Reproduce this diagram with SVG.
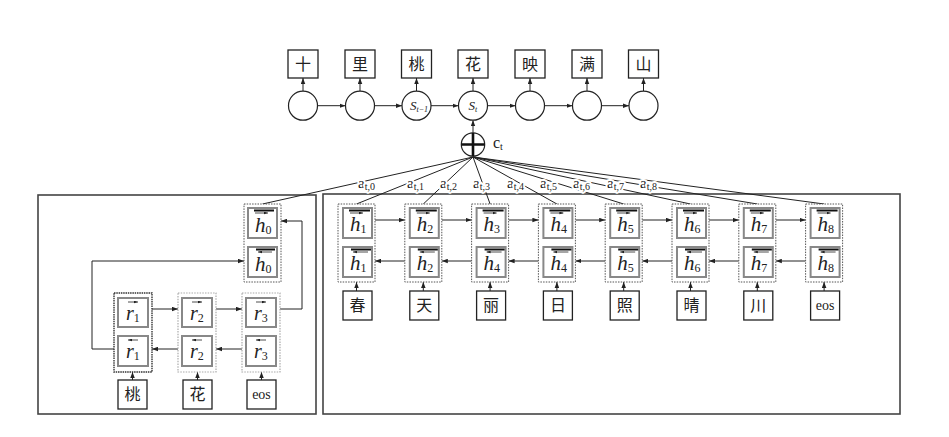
<svg xmlns="http://www.w3.org/2000/svg" width="949" height="437" viewBox="0 0 949 437">
<style>
.ln{fill:none;stroke:#222;stroke-width:1}
.ar{fill:none;stroke:#222;stroke-width:1;marker-end:url(#ah)}
.bx{fill:#fff;stroke:#222;stroke-width:1.3}
.cir{fill:#fff;stroke:#222;stroke-width:1.2}
.outer{fill:#fff;stroke:#555;stroke-width:1;stroke-dasharray:1.5 1.2}
.outerL{fill:#fff;stroke:#aaa;stroke-width:1.2;stroke-dasharray:1.5 1.2}
.inner{fill:#fff;stroke:#888;stroke-width:2}
.frame{fill:none;stroke:#444;stroke-width:1.6}
.cjk{font-family:"Noto Sans CJK SC","Noto Sans CJK JP",sans-serif;font-size:16px;fill:#222;text-anchor:middle}
.ser{font-family:"Liberation Serif","DejaVu Serif",serif;fill:#222}
.it{font-family:"Liberation Serif","DejaVu Serif",serif;font-style:italic;fill:#222}
.sub{font-family:"Liberation Serif","DejaVu Serif",serif;font-style:normal;font-size:12px}
.lab{font-family:"Liberation Serif","DejaVu Serif",serif;fill:#222;font-size:15px;stroke:#fff;stroke-width:4;paint-order:stroke;stroke-linejoin:round}
.bar{fill:#111}
.sm{stroke:#222;stroke-width:0.8;fill:none;marker-end:url(#sa)}
</style>
<defs>
<marker id="ah" viewBox="0 0 8 6" refX="8" refY="3" markerWidth="6" markerHeight="5" orient="auto" markerUnits="userSpaceOnUse">
<path d="M0,0 L8,3 L0,6 z" fill="#222"/>
</marker>
<marker id="sa" viewBox="0 0 6 4" refX="6" refY="2" markerWidth="4" markerHeight="3" orient="auto" markerUnits="userSpaceOnUse">
<path d="M0,0 L6,2 L0,4 z" fill="#222"/>
</marker>
</defs>

<!-- frames -->
<rect class="frame" x="38" y="195" width="278" height="219"/>
<rect class="frame" x="323" y="194" width="577" height="220"/>

<!-- connectors -->
<g id="connectors">
  <path class="ar" d="M303,91 V78"/>
  <path class="ar" d="M360,91 V78"/>
  <path class="ar" d="M416.5,91 V78"/>
  <path class="ar" d="M473,91 V78"/>
  <path class="ar" d="M530,91 V78"/>
  <path class="ar" d="M587,91 V78"/>
  <path class="ar" d="M643.5,91 V78"/>
  <path class="ar" d="M317.5,105.7 H345.5"/>
  <path class="ar" d="M374.5,105.7 H402"/>
  <path class="ar" d="M431,105.7 H458.5"/>
  <path class="ar" d="M487.5,105.7 H515.5"/>
  <path class="ar" d="M544.5,105.7 H572.5"/>
  <path class="ar" d="M601.5,105.7 H629"/>
  <path class="ar" d="M473,132.5 V120.2"/>
  <path class="ln" d="M473,157 L262.5,204"/>
  <path class="ln" d="M473,157 L356.5,204"/>
  <path class="ln" d="M473,157 L423.3,204"/>
  <path class="ln" d="M473,157 L490.1,204"/>
  <path class="ln" d="M473,157 L556.9,204"/>
  <path class="ln" d="M473,157 L623.7,204"/>
  <path class="ln" d="M473,157 L690.5,204"/>
  <path class="ln" d="M473,157 L757.3,204"/>
  <path class="ln" d="M473,157 L824.1,204"/>
  <path class="ar" d="M375,220 H404.8"/>
  <path class="ar" d="M441.8,220 H471.6"/>
  <path class="ar" d="M508.6,220 H538.4"/>
  <path class="ar" d="M575.4,220 H605.2"/>
  <path class="ar" d="M642.2,220 H672"/>
  <path class="ar" d="M709,220 H738.8"/>
  <path class="ar" d="M775.8,220 H805.6"/>
  <path class="ar" d="M404.8,261 H375"/>
  <path class="ar" d="M471.6,261 H441.8"/>
  <path class="ar" d="M538.4,261 H508.6"/>
  <path class="ar" d="M605.2,261 H575.4"/>
  <path class="ar" d="M672,261 H642.2"/>
  <path class="ar" d="M738.8,261 H709"/>
  <path class="ar" d="M805.6,261 H775.8"/>
  <path class="ar" d="M356.5,291 V282"/>
  <path class="ar" d="M423.3,291 V282"/>
  <path class="ar" d="M490.1,291 V282"/>
  <path class="ar" d="M556.9,291 V282"/>
  <path class="ar" d="M623.7,291 V282"/>
  <path class="ar" d="M690.5,291 V282"/>
  <path class="ar" d="M757.3,291 V282"/>
  <path class="ar" d="M824.1,291 V282"/>
  <path class="ar" d="M152,309 H178"/>
  <path class="ar" d="M216,309 H242"/>
  <path class="ar" d="M178,349 H152"/>
  <path class="ar" d="M242,349 H216"/>
  <path class="ar" d="M280,309 H302 V221 H281"/>
  <path class="ar" d="M114,349 H92 V261 H244"/>
  <path class="ar" d="M132.5,380 V372"/>
  <path class="ar" d="M197.5,380 V372"/>
  <path class="ar" d="M261.5,380 V372"/>
</g>

<g id="att-labels">
  <text class="lab" x="358" y="188">a<tspan font-size="10" dy="2">t,0</tspan></text>
  <text class="lab" x="407" y="188">a<tspan font-size="10" dy="2">t,1</tspan></text>
  <text class="lab" x="440" y="188">a<tspan font-size="10" dy="2">t,2</tspan></text>
  <text class="lab" x="473" y="188">a<tspan font-size="10" dy="2">t,3</tspan></text>
  <text class="lab" x="507" y="188">a<tspan font-size="10" dy="2">t,4</tspan></text>
  <text class="lab" x="540" y="188">a<tspan font-size="10" dy="2">t,5</tspan></text>
  <text class="lab" x="573" y="188">a<tspan font-size="10" dy="2">t,6</tspan></text>
  <text class="lab" x="607" y="188">a<tspan font-size="10" dy="2">t,7</tspan></text>
  <text class="lab" x="640" y="188">a<tspan font-size="10" dy="2">t,8</tspan></text>
</g>

<g id="y1"><rect class="bx" x="288" y="50" width="30" height="28"/><text class="cjk" x="303" y="70">十</text></g>
<g id="y2"><rect class="bx" x="345" y="50" width="30" height="28"/><text class="cjk" x="360" y="70">里</text></g>
<g id="y3"><rect class="bx" x="401.5" y="50" width="30" height="28"/><text class="cjk" x="416.5" y="70">桃</text></g>
<g id="y4"><rect class="bx" x="458" y="50" width="30" height="28"/><text class="cjk" x="473" y="70">花</text></g>
<g id="y5"><rect class="bx" x="515" y="50" width="30" height="28"/><text class="cjk" x="530" y="70">映</text></g>
<g id="y6"><rect class="bx" x="572" y="50" width="30" height="28"/><text class="cjk" x="587" y="70">满</text></g>
<g id="y7"><rect class="bx" x="628.5" y="50" width="30" height="28"/><text class="cjk" x="643.5" y="70">山</text></g>

<g id="s1"><circle class="cir" cx="303" cy="105.7" r="14.5"/></g>
<g id="s2"><circle class="cir" cx="360" cy="105.7" r="14.5"/></g>
<g id="s3"><circle class="cir" cx="416.5" cy="105.7" r="14.5"/><text class="it" x="410" y="110" font-size="13">S<tspan font-size="8" dy="1.5">t−1</tspan></text></g>
<g id="s4"><circle class="cir" cx="473" cy="105.7" r="14.5"/><text class="it" x="468.5" y="110" font-size="13">S<tspan font-size="8" dy="1.5">t</tspan></text></g>
<g id="s5"><circle class="cir" cx="530" cy="105.7" r="14.5"/></g>
<g id="s6"><circle class="cir" cx="587" cy="105.7" r="14.5"/></g>
<g id="s7"><circle class="cir" cx="643.5" cy="105.7" r="14.5"/></g>

<g id="ct">
  <circle cx="473" cy="144.5" r="11.7" fill="#fff" stroke="#222" stroke-width="1.2"/>
  <path d="M461.3,144.5 H484.7 M473,132.8 V156.2" stroke="#111" stroke-width="2.6"/>
  <text class="ser" x="493" y="148" font-size="16">c<tspan font-size="10" dy="2">t</tspan></text>
</g>

<g id="h0" transform="translate(244,0)">
  <rect class="outer" x="0" y="204" width="37" height="78"/>
  <rect class="inner" x="4" y="208" width="29" height="30"/><rect class="inner" x="4" y="247" width="29" height="30"/>
  <rect class="bar" x="10" y="209.5" width="20" height="2"/><path class="sm" d="M11,213 H24"/>
  <text class="it" x="11" y="232" font-size="21">h<tspan class="sub" dy="2">0</tspan></text>
  <rect class="bar" x="12" y="248.5" width="19" height="2"/><path class="sm" d="M28,252 H14"/>
  <text class="it" x="11" y="271" font-size="21">h<tspan class="sub" dy="2">0</tspan></text>
</g>

<g id="r1">
  <rect x="114" y="293" width="38" height="79" fill="#fff" stroke="#333" stroke-width="1.4" stroke-dasharray="1.5 0.8"/>
  <rect class="inner" x="118" y="298" width="30" height="29"/>
  <rect class="inner" x="118" y="336" width="30" height="30"/>
  <path class="sm" d="M128,302 H138"/>
  <text class="it" x="126" y="320" font-size="20">r<tspan class="sub" dy="2">1</tspan></text>
  <path class="sm" d="M138,340 H128"/>
  <text class="it" x="126" y="358" font-size="20">r<tspan class="sub" dy="2">1</tspan></text>
</g>
<g id="r2">
  <rect class="outerL" x="178" y="293" width="38" height="79"/>
  <rect class="inner" x="182" y="298" width="30" height="29"/>
  <rect class="inner" x="182" y="336" width="30" height="30"/>
  <path class="sm" d="M192,302 H202"/>
  <text class="it" x="190" y="320" font-size="20">r<tspan class="sub" dy="2">2</tspan></text>
  <path class="sm" d="M202,340 H192"/>
  <text class="it" x="190" y="358" font-size="20">r<tspan class="sub" dy="2">2</tspan></text>
</g>
<g id="r3">
  <rect class="outerL" x="242" y="293" width="38" height="79"/>
  <rect class="inner" x="246" y="298" width="30" height="29"/>
  <rect class="inner" x="246" y="336" width="30" height="30"/>
  <path class="sm" d="M256,302 H266"/>
  <text class="it" x="254" y="320" font-size="20">r<tspan class="sub" dy="2">3</tspan></text>
  <path class="sm" d="M266,340 H256"/>
  <text class="it" x="254" y="358" font-size="20">r<tspan class="sub" dy="2">3</tspan></text>
</g>

<g id="lx1"><rect class="bx" x="118" y="380" width="29" height="29"/><text class="cjk" x="132.5" y="400" font-size="17">桃</text></g>
<g id="lx2"><rect class="bx" x="183" y="380" width="29" height="29"/><text class="cjk" x="197.5" y="400" font-size="17">花</text></g>
<g id="lx3"><rect class="bx" x="247" y="380" width="29" height="29"/><text class="ser" x="261.5" y="399" font-size="14" text-anchor="middle">eos</text></g>

<g id="h1" transform="translate(338,0)">
  <rect class="outer" x="0" y="204" width="37" height="78"/>
  <rect class="inner" x="5" y="208" width="29" height="30"/><rect class="inner" x="5" y="247" width="29" height="30"/>
  <rect class="bar" x="11" y="209.5" width="21" height="2"/><path class="sm" d="M12,213 H25"/>
  <text class="it" x="12" y="231" font-size="21">h<tspan class="sub" dy="2">1</tspan></text>
  <rect class="bar" x="13" y="248.5" width="20" height="2"/><path class="sm" d="M30,252 H15"/>
  <text class="it" x="12" y="270" font-size="21">h<tspan class="sub" dy="2">1</tspan></text>
</g>
<g id="h2" transform="translate(404.8,0)">
  <rect class="outer" x="0" y="204" width="37" height="78"/>
  <rect class="inner" x="5" y="208" width="29" height="30"/><rect class="inner" x="5" y="247" width="29" height="30"/>
  <rect class="bar" x="11" y="209.5" width="21" height="2"/><path class="sm" d="M12,213 H25"/>
  <text class="it" x="12" y="231" font-size="21">h<tspan class="sub" dy="2">2</tspan></text>
  <rect class="bar" x="13" y="248.5" width="20" height="2"/><path class="sm" d="M30,252 H15"/>
  <text class="it" x="12" y="270" font-size="21">h<tspan class="sub" dy="2">2</tspan></text>
</g>
<g id="h3" transform="translate(471.6,0)">
  <rect class="outer" x="0" y="204" width="37" height="78"/>
  <rect class="inner" x="5" y="208" width="29" height="30"/><rect class="inner" x="5" y="247" width="29" height="30"/>
  <rect class="bar" x="11" y="209.5" width="21" height="2"/><path class="sm" d="M12,213 H25"/>
  <text class="it" x="12" y="231" font-size="21">h<tspan class="sub" dy="2">3</tspan></text>
  <rect class="bar" x="13" y="248.5" width="20" height="2"/><path class="sm" d="M30,252 H15"/>
  <text class="it" x="12" y="270" font-size="21">h<tspan class="sub" dy="2">4</tspan></text>
</g>
<g id="h4" transform="translate(538.4,0)">
  <rect class="outer" x="0" y="204" width="37" height="78"/>
  <rect class="inner" x="5" y="208" width="29" height="30"/><rect class="inner" x="5" y="247" width="29" height="30"/>
  <rect class="bar" x="11" y="209.5" width="21" height="2"/><path class="sm" d="M12,213 H25"/>
  <text class="it" x="12" y="231" font-size="21">h<tspan class="sub" dy="2">4</tspan></text>
  <rect class="bar" x="13" y="248.5" width="20" height="2"/><path class="sm" d="M30,252 H15"/>
  <text class="it" x="12" y="270" font-size="21">h<tspan class="sub" dy="2">4</tspan></text>
</g>
<g id="h5" transform="translate(605.2,0)">
  <rect class="outer" x="0" y="204" width="37" height="78"/>
  <rect class="inner" x="5" y="208" width="29" height="30"/><rect class="inner" x="5" y="247" width="29" height="30"/>
  <rect class="bar" x="11" y="209.5" width="21" height="2"/><path class="sm" d="M12,213 H25"/>
  <text class="it" x="12" y="231" font-size="21">h<tspan class="sub" dy="2">5</tspan></text>
  <rect class="bar" x="13" y="248.5" width="20" height="2"/><path class="sm" d="M30,252 H15"/>
  <text class="it" x="12" y="270" font-size="21">h<tspan class="sub" dy="2">5</tspan></text>
</g>
<g id="h6" transform="translate(672,0)">
  <rect class="outer" x="0" y="204" width="37" height="78"/>
  <rect class="inner" x="5" y="208" width="29" height="30"/><rect class="inner" x="5" y="247" width="29" height="30"/>
  <rect class="bar" x="11" y="209.5" width="21" height="2"/><path class="sm" d="M12,213 H25"/>
  <text class="it" x="12" y="231" font-size="21">h<tspan class="sub" dy="2">6</tspan></text>
  <rect class="bar" x="13" y="248.5" width="20" height="2"/><path class="sm" d="M30,252 H15"/>
  <text class="it" x="12" y="270" font-size="21">h<tspan class="sub" dy="2">6</tspan></text>
</g>
<g id="h7" transform="translate(738.8,0)">
  <rect class="outer" x="0" y="204" width="37" height="78"/>
  <rect class="inner" x="5" y="208" width="29" height="30"/><rect class="inner" x="5" y="247" width="29" height="30"/>
  <rect class="bar" x="11" y="209.5" width="21" height="2"/><path class="sm" d="M12,213 H25"/>
  <text class="it" x="12" y="231" font-size="21">h<tspan class="sub" dy="2">7</tspan></text>
  <rect class="bar" x="13" y="248.5" width="20" height="2"/><path class="sm" d="M30,252 H15"/>
  <text class="it" x="12" y="270" font-size="21">h<tspan class="sub" dy="2">7</tspan></text>
</g>
<g id="h8" transform="translate(805.6,0)">
  <rect class="outer" x="0" y="204" width="37" height="78"/>
  <rect class="inner" x="5" y="208" width="29" height="30"/><rect class="inner" x="5" y="247" width="29" height="30"/>
  <rect class="bar" x="11" y="209.5" width="21" height="2"/><path class="sm" d="M12,213 H25"/>
  <text class="it" x="12" y="231" font-size="21">h<tspan class="sub" dy="2">8</tspan></text>
  <rect class="bar" x="13" y="248.5" width="20" height="2"/><path class="sm" d="M30,252 H15"/>
  <text class="it" x="12" y="270" font-size="21">h<tspan class="sub" dy="2">8</tspan></text>
</g>

<g id="x1"><rect class="bx" x="343" y="291" width="29" height="29"/><text class="cjk" x="357.5" y="311" font-size="17">春</text></g>
<g id="x2"><rect class="bx" x="409.8" y="291" width="29" height="29"/><text class="cjk" x="424.3" y="311" font-size="17">天</text></g>
<g id="x3"><rect class="bx" x="476.6" y="291" width="29" height="29"/><text class="cjk" x="491.1" y="311" font-size="17">丽</text></g>
<g id="x4"><rect class="bx" x="543.4" y="291" width="29" height="29"/><text class="cjk" x="557.9" y="311" font-size="17">日</text></g>
<g id="x5"><rect class="bx" x="610.2" y="291" width="29" height="29"/><text class="cjk" x="624.7" y="311" font-size="17">照</text></g>
<g id="x6"><rect class="bx" x="677" y="291" width="29" height="29"/><text class="cjk" x="691.5" y="311" font-size="17">晴</text></g>
<g id="x7"><rect class="bx" x="743.8" y="291" width="29" height="29"/><text class="cjk" x="758.3" y="311" font-size="17">川</text></g>
<g id="x8"><rect class="bx" x="810.6" y="291" width="29" height="29"/><text class="ser" x="825.1" y="310" font-size="14" text-anchor="middle">eos</text></g>
</svg>
